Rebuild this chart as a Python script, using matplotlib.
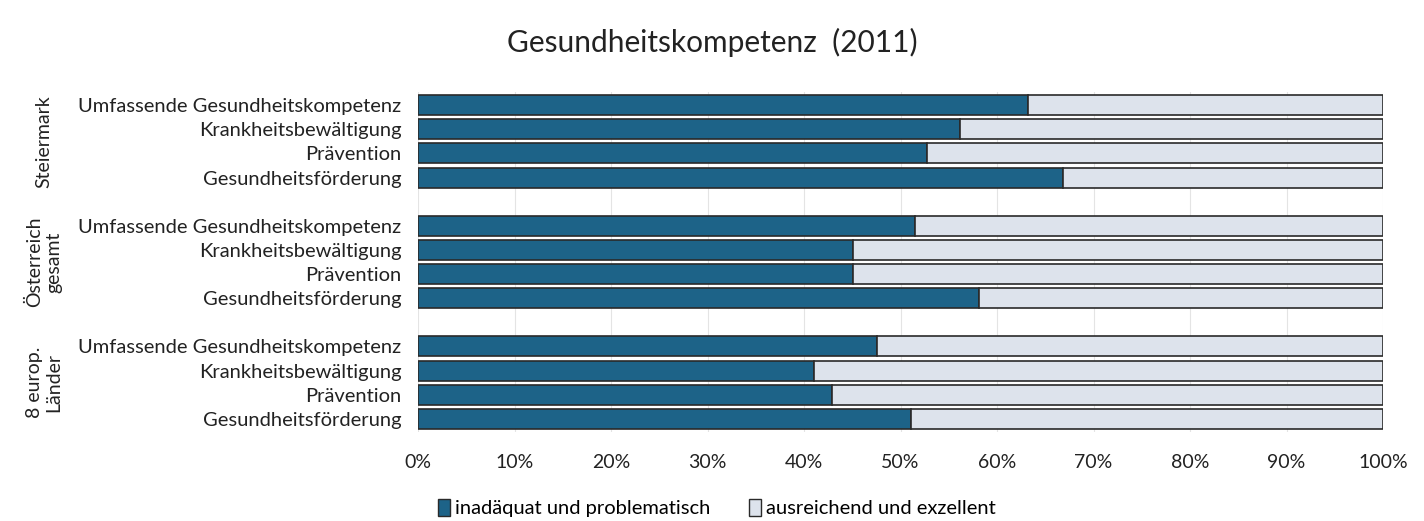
import matplotlib.pyplot as plt
from matplotlib.patches import Patch

plt.rcParams['font.family'] = ['Lato', 'DejaVu Sans']

# data
groups = ["Steiermark", "Österreich\ngesamt", "8 europ.\nLänder"]
items = ["Umfassende Gesundheitskompetenz", "Krankheitsbewältigung",
         "Prävention", "Gesundheitsförderung"]
inadequat = [
    [63.2, 56.2, 52.7, 66.8],   # Steiermark
    [51.5, 45.1, 45.1, 58.1],   # Österreich gesamt
    [47.6, 41.0, 42.9, 51.1],   # 8 europ. Länder
]
ticks = [0, 10, 20, 30, 40, 50, 60, 70, 80, 90, 100]

dark = "#1d6388"
light = "#dde3ec"
edge = "#2a2a2a"

fig = plt.figure(figsize=(14.24, 5.21), dpi=100)
ax = fig.add_axes([418 / 1424, 1 - 432 / 521, 965 / 1424, 340 / 521])

ypos, labels = [], []
for g, vals in enumerate(inadequat):
    for i, v in enumerate(vals):
        y = g * 5 + i
        ypos.append(y)
        labels.append(items[i])
        ax.barh(y, v, height=0.83, color=dark, edgecolor=edge, linewidth=1.2, zorder=3)
        ax.barh(y, 100 - v, left=v, height=0.83, color=light, edgecolor=edge,
                linewidth=1.2, zorder=3)

ax.set_ylim(13.55, -0.55)
ax.set_xlim(0, 100)
ax.set_yticks(ypos)
ax.set_yticklabels(labels, fontsize=14.5, color="#222222")
ax.set_xticks(ticks)
ax.set_xticklabels([f"{t}%" for t in ticks], fontsize=14, color="#222222")
ax.tick_params(axis="y", length=0, pad=12)
ax.tick_params(axis="x", length=0, pad=16)
ax.grid(axis="x", color="#e4e4e4", linewidth=0.8, zorder=0)
for s in ax.spines.values():
    s.set_visible(False)

# group labels, rotated left of the item labels
for g, name in enumerate(groups):
    yc = g * 5 + 1.5
    ax.text(-(418 - 44) / 965, yc, name, transform=ax.get_yaxis_transform(),
            rotation=90, ha="center", va="center", fontsize=14, color="#222222",
            multialignment="center")

fig.suptitle("Gesundheitskompetenz  (2011)", fontsize=21.5, y=1 - 42 / 521, va="center",
             color="#222222")

handles = [Patch(facecolor=dark, edgecolor=edge), Patch(facecolor=light, edgecolor=edge)]
fig.legend(handles, ["inadäquat und problematisch", "ausreichend und exzellent"],
           loc="center", bbox_to_anchor=(717 / 1424, 1 - 508 / 521), ncol=2, frameon=False,
           fontsize=14.5, handlelength=0.6, handleheight=0.9, handletextpad=0.25,
           columnspacing=1.9)

fig.savefig("out.png", dpi=100, facecolor="white")
